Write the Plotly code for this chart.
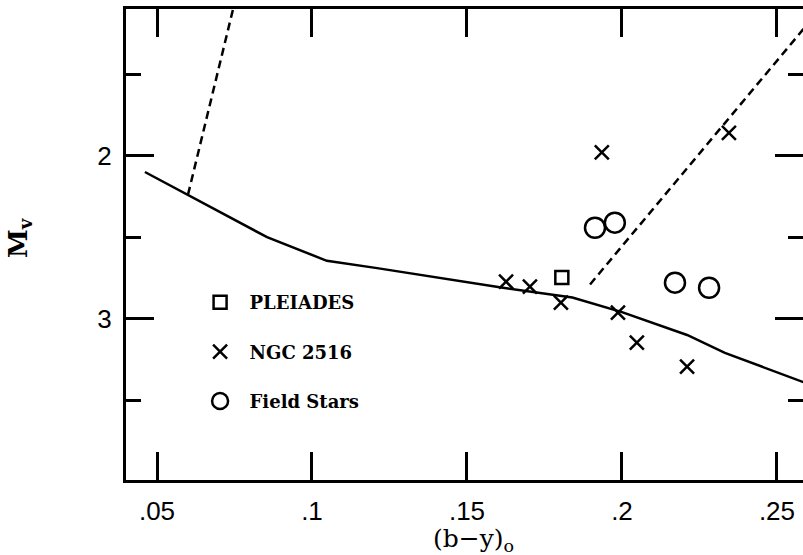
import plotly.graph_objects as go

# ZAMS (solid line)
zams_x = [0.0461, 0.0600, 0.0855, 0.1048, 0.1210, 0.1616, 0.1840, 0.2000, 0.2210, 0.2332, 0.2600]
zams_y = [2.10, 2.24, 2.50, 2.645, 2.69, 2.81, 2.87, 2.96, 3.10, 3.21, 3.40]

# dashed lines
dash1_x = [0.0600, 0.0745]
dash1_y = [2.239, 1.104]
dash2_x = [0.1897, 0.2600]
dash2_y = [2.79, 1.19]

# data
pleiades_x = [0.1806]
pleiades_y = [2.748]

ngc_x = [0.1935, 0.2345, 0.1626, 0.1703, 0.1803, 0.1987, 0.2048, 0.2210]
ngc_y = [1.98, 1.86, 2.773, 2.804, 2.902, 2.963, 3.147, 3.294]

field_x = [0.1913, 0.1977, 0.2171, 0.2281]
field_y = [2.442, 2.411, 2.779, 2.810]

x_ticks = [0.05, 0.10, 0.15, 0.20, 0.25]
x_ticktext = [".05", ".1", ".15", ".2", ".25"]
y_ticks = [2, 3]
y_ticktext = ["2", "3"]
y_minor = [1.5, 2.5, 3.5]

fig = go.Figure()

fig.add_trace(go.Scatter(x=zams_x, y=zams_y, mode="lines",
                         line=dict(color="black", width=2.5), showlegend=False, hoverinfo="skip"))
fig.add_trace(go.Scatter(x=dash1_x, y=dash1_y, mode="lines",
                         line=dict(color="black", width=2.5, dash="8px,5px"), showlegend=False, hoverinfo="skip"))
fig.add_trace(go.Scatter(x=dash2_x, y=dash2_y, mode="lines",
                         line=dict(color="black", width=2.5, dash="8px,5px"), showlegend=False, hoverinfo="skip"))

fig.add_trace(go.Scatter(x=pleiades_x, y=pleiades_y, mode="markers", name="PLEIADES", legendgroup="a",
                         marker=dict(symbol="square-open", size=13, color="black", line=dict(width=2.5))))
fig.add_trace(go.Scatter(x=ngc_x, y=ngc_y, mode="markers", name="NGC 2516", legendgroup="b",
                         marker=dict(symbol="x-thin-open", size=14, color="black", line=dict(width=2.5, color="black"))))
fig.add_trace(go.Scatter(x=field_x, y=field_y, mode="markers", name="Field Stars", legendgroup="c",
                         marker=dict(symbol="circle-open", size=20, color="black", line=dict(width=2.5))))

# invisible trace for right-side y ticks
fig.add_trace(go.Scatter(x=[None], y=[None], yaxis="y2", showlegend=False, hoverinfo="skip"))

fig.update_layout(
    width=803, height=555,
    margin=dict(l=126, r=0, t=9, b=75, autoexpand=False),
    paper_bgcolor="white", plot_bgcolor="white",
    font=dict(family="Liberation Sans", color="black"),
    xaxis=dict(range=[0.04, 0.2584], showgrid=False, zeroline=False, automargin=False,
               showline=True, linewidth=3, linecolor="black", mirror="ticks",
               ticks="inside", ticklen=28, tickwidth=2.5, tickcolor="black",
               tickvals=x_ticks, ticktext=x_ticktext, ticklabelstandoff=6,
               tickfont=dict(family="Liberation Sans", size=26)),
    yaxis=dict(range=[3.99, 1.10], showgrid=False, zeroline=False, automargin=False,
               showline=True, linewidth=3, linecolor="black",
               ticks="inside", ticklen=28, tickwidth=2.5, tickcolor="black",
               tickvals=y_ticks, ticktext=y_ticktext, ticklabelstandoff=6,
               tickfont=dict(family="Liberation Sans", size=26),
               minor=dict(tickvals=y_minor, ticks="inside", ticklen=15, tickwidth=2.5, tickcolor="black")),
    yaxis2=dict(range=[3.99, 1.10], overlaying="y", side="right", showgrid=False, zeroline=False,
                showline=False, showticklabels=False, automargin=False,
                ticks="inside", ticklen=28, tickwidth=2.5, tickcolor="black",
                tickvals=y_ticks,
                minor=dict(tickvals=y_minor, ticks="inside", ticklen=15, tickwidth=2.5, tickcolor="black")),
    legend=dict(x=0.0954, y=0.416, xanchor="left", yanchor="top", bgcolor="rgba(0,0,0,0)",
                font=dict(family="DejaVu Serif", size=18, color="black", weight="bold"),
                tracegroupgap=23, itemwidth=49),
    annotations=[
        dict(text="<b>M<sub>v</sub></b>", textangle=-90, xref="paper", yref="paper",
             x=-0.1566, y=0.516, xanchor="center", yanchor="middle", showarrow=False,
             font=dict(family="DejaVu Serif", size=26, color="black")),
        dict(text="(b\u2212y)<sub>o</sub>", xref="paper", yref="paper",
             x=0.514, y=-0.128, xanchor="center", yanchor="middle", showarrow=False,
             font=dict(family="DejaVu Serif", size=25, color="black")),
    ],
    showlegend=True,
)

fig.write_html("out.html", config={"displayModeBar": False},
               post_script="document.body.style.margin='0';document.body.style.overflow='hidden';")
